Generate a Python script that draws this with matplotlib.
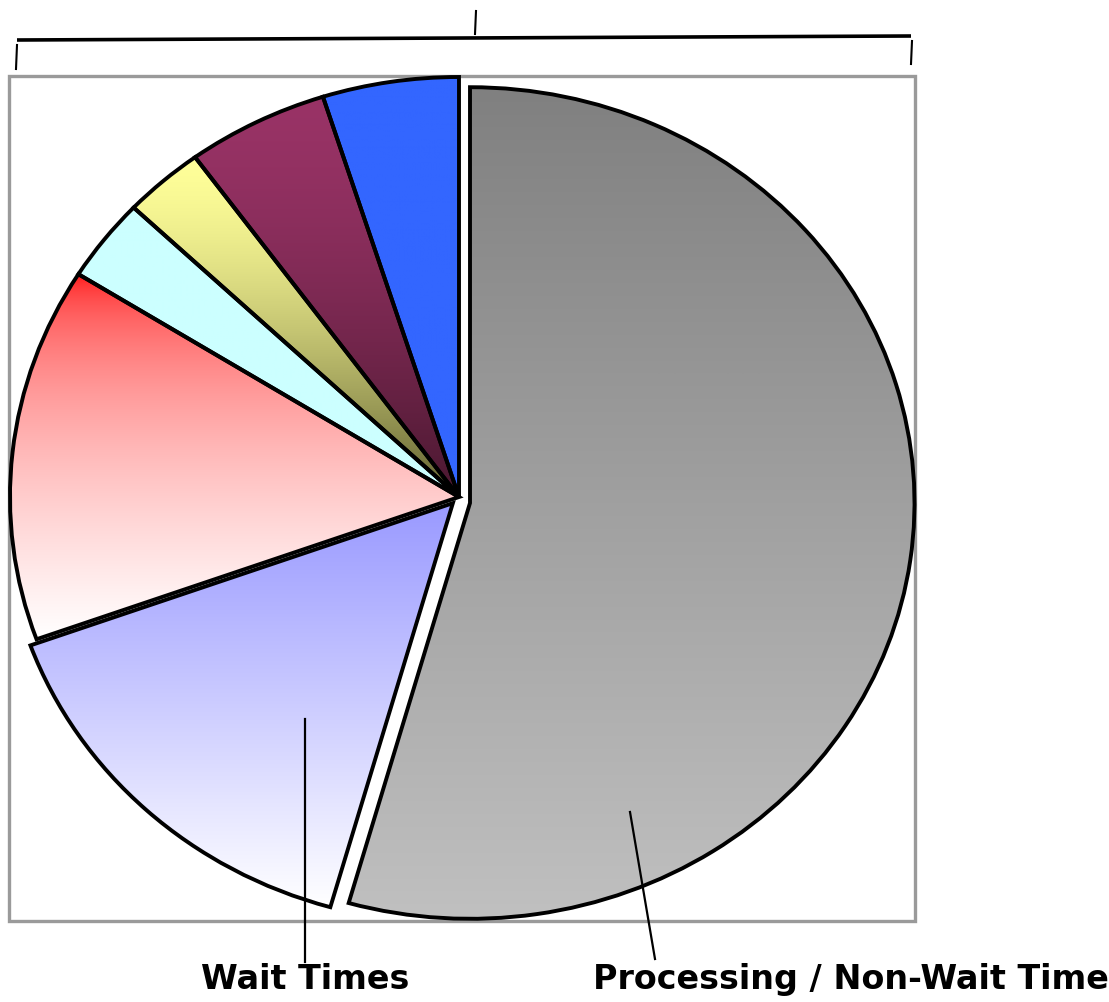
import numpy as np
import matplotlib as mpl
import matplotlib.pyplot as plt
from matplotlib.colors import to_rgb
from matplotlib.patches import Rectangle

mpl.use('agg')

# share of total lead time (%), clockwise from 12 o'clock
shares = [54.4, 15.1, 14.4, 3.2, 2.9, 5.1, 4.9]
explode = [0.025, 0.02, 0, 0, 0, 0, 0]
label_main = 'Processing / Non-Wait Time'
label_wait = 'Wait Times'

# vertical gradient per slice: colour at the top, colour at the bottom, easing exponent
top_colors = ['#808080', '#9999ff', '#ff0000', '#ccffff', '#ffff99', '#993366', '#3366ff']
bottom_colors = ['#c0c0c0', '#ffffff', '#ffffff', '#ccffff', '#606030', '#4a1830', '#3366ff']
easing = [1.0, 1.0, 0.45, 1.0, 1.5, 1.5, 1.0]

W, H = 1109, 1003
fig = plt.figure(figsize=(W / 100, H / 100), dpi=100)

# pixel helpers: everything outside the pie is laid out in image pixels
bg = fig.add_axes([0, 0, 1, 1], facecolor='none')
bg.set_xlim(0, W)
bg.set_ylim(H, 0)
bg.axis('off')
bg.set_zorder(-1)

# plot-area border
bg.add_patch(Rectangle((9, 77), 906, 845, fill=False, edgecolor='#9a9a9a', lw=2.4))

# bracket above the chart
bg.plot([17, 911], [41, 37], color='black', lw=2.6, solid_capstyle='butt')
bg.plot([476, 475], [12, 35], color='black', lw=1.5)
bg.plot([17, 16], [46, 70], color='black', lw=1.5)
bg.plot([912, 911], [42, 65], color='black', lw=1.5)

# pie, slightly wider than tall
cx, cy = 459, 498
rx, ry = 449, 420
lim = 1.1
ax = fig.add_axes([(cx - lim * rx) / W, (H - cy - lim * ry) / H,
                   2 * lim * rx / W, 2 * lim * ry / H])
wedges, _ = ax.pie(shares, explode=explode, startangle=90, counterclock=False,
                   wedgeprops=dict(edgecolor='black', linewidth=2.8, facecolor='none'))

# the pulled-out main slice sits a little lower and is a touch smaller
wedges[0].set_center((0.0245, -0.0143))
wedges[0].set_radius(0.99)

for w, top, bot, k in zip(wedges, top_colors, bottom_colors, easing):
    ext = w.get_path().get_extents()
    t = np.linspace(0, 1, 256)[:, None] ** k
    grad = (1 - t) * np.array(to_rgb(top)) + t * np.array(to_rgb(bot))
    im = ax.imshow(grad[:, None, :], extent=(ext.x0, ext.x1, ext.y0, ext.y1),
                   aspect='auto', origin='upper', interpolation='bilinear', zorder=0.5)
    im.set_clip_path(w)

ax.set_xlim(-lim, lim)
ax.set_ylim(-lim, lim)
ax.set_aspect('auto')
ax.axis('off')

# leader lines and labels on top
fg = fig.add_axes([0, 0, 1, 1], facecolor='none')
fg.set_xlim(0, W)
fg.set_ylim(H, 0)
fg.axis('off')

fg.plot([305, 305], [720, 963], color='black', lw=1.6)
fg.plot([630, 655], [813, 960], color='black', lw=1.6)
fg.text(305, 989, label_wait, ha='center', va='baseline',
        fontsize=24, fontweight='bold', family='DejaVu Sans')
fg.text(851, 989, label_main, ha='center', va='baseline',
        fontsize=24, fontweight='bold', family='DejaVu Sans')

fig.savefig('out.png', dpi=100)
